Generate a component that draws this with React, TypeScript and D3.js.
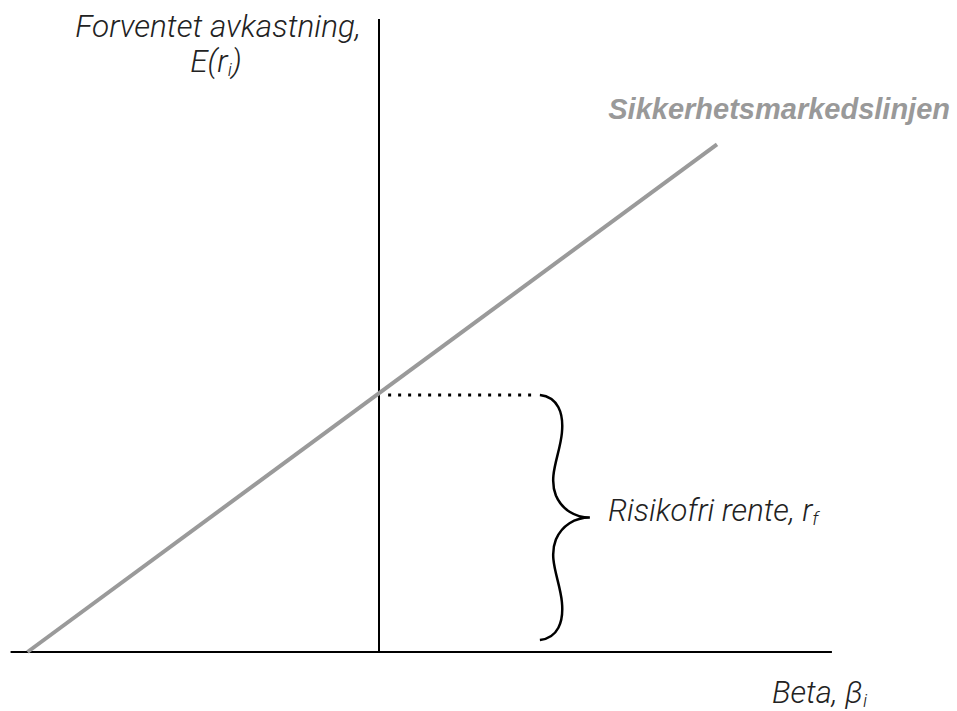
import React from "react";
import * as d3 from "d3";

// ---- data ----
const betaExtent = [-1.09, 1.34]; // x axis extent (beta)
const returnExtent = [0, 0.1222]; // y axis extent (expected return)
const smlBeta = [-1.04, 1.0];
const smlReturn = [0.0, 0.098];
const riskFree = 0.05;
const dottedBeta = [0.027, 0.45];
const braceBeta = 0.476;
const yLabelLines = ["Forventet avkastning,", "E(r", "i", ")"];
const smlLabel = "Sikkerhetsmarkedslinjen";
const rfLabel = ["Risikofri rente, r", "f"];
const xLabel = ["Beta, β", "i"];

const W = 957;
const H = 711;

export default function App() {
  const x = d3.scaleLinear().domain([-1, 1]).range([41, 717]);
  const y = d3.scaleLinear().domain([0, 0.1]).range([652, 134]);

  const line = d3
    .line<[number, number]>()
    .x((d) => x(d[0]))
    .y((d) => y(d[1]));
  const smlData: [number, number][] = smlBeta.map((b, i) => [b, smlReturn[i]]);

  const x0 = x(braceBeta);
  const y0 = y(riskFree) + 2;
  const y1 = y(0) - 12;
  const m = (y0 + y1) / 2;
  const p = d3.path();
  p.moveTo(x0, y0);
  p.bezierCurveTo(x0 + 18, y0 + 2, x0 + 24, y0 + 18, x0 + 22, y0 + 38);
  p.bezierCurveTo(x0 + 20, y0 + 60, x0 + 8, m - 42, x0 + 16, m - 22);
  p.bezierCurveTo(x0 + 22, m - 8, x0 + 35, m, x0 + 50, m);
  p.bezierCurveTo(x0 + 35, m, x0 + 22, m + 8, x0 + 16, m + 22);
  p.bezierCurveTo(x0 + 8, m + 42, x0 + 20, y1 - 60, x0 + 22, y1 - 38);
  p.bezierCurveTo(x0 + 24, y1 - 18, x0 + 18, y1 - 2, x0, y1);

  const font = "Roboto, 'Liberation Sans', Arial, sans-serif";

  return (
    <svg
      width={W}
      height={H}
      style={{ position: "absolute", left: 0, top: 0, background: "#fff" }}
    >
      {/* axes */}
      <line
        x1={x(betaExtent[0])}
        x2={x(betaExtent[1])}
        y1={y(0)}
        y2={y(0)}
        stroke="#000"
        strokeWidth={2.2}
      />
      <line
        x1={x(0)}
        x2={x(0)}
        y1={y(returnExtent[0])}
        y2={y(returnExtent[1])}
        stroke="#000"
        strokeWidth={2}
      />
      {/* SML */}
      <path d={line(smlData) || ""} stroke="#9a9a9a" strokeWidth={4} fill="none" />
      {/* dotted risk-free level */}
      <line
        x1={x(dottedBeta[0])}
        x2={x(dottedBeta[1])}
        y1={y(riskFree) + 2}
        y2={y(riskFree) + 2}
        stroke="#000"
        strokeWidth={3}
        strokeDasharray="3 7"
      />
      {/* brace */}
      <path d={p.toString()} stroke="#000" strokeWidth={2.5} fill="none" />

      {/* labels */}
      <g fontFamily={font} fontStyle="italic" fontWeight={300} fill="#222">
        <text x={218} y={37} fontSize={31.5} textAnchor="middle">
          {yLabelLines[0]}
        </text>
        <text x={216} y={72} fontSize={31.5} textAnchor="middle">
          {yLabelLines[1]}
          <tspan fontSize={19} dy={4}>
            {yLabelLines[2]}
          </tspan>
          <tspan dy={-4}>{yLabelLines[3]}</tspan>
        </text>
        <text x={608} y={521} fontSize={31}>
          {rfLabel[0]}
          <tspan fontSize={19} dy={4}>
            {rfLabel[1]}
          </tspan>
        </text>
        <text x={772} y={703} fontSize={31}>
          {xLabel[0]}
          <tspan fontSize={19} dy={4}>
            {xLabel[1]}
          </tspan>
        </text>
      </g>
      <text
        x={950}
        y={119}
        fontFamily="'Liberation Sans', Arial, sans-serif"
        fontStyle="italic"
        fontWeight="bold"
        fontSize={29}
        textAnchor="end"
        fill="#999"
      >
        {smlLabel}
      </text>
    </svg>
  );
}
